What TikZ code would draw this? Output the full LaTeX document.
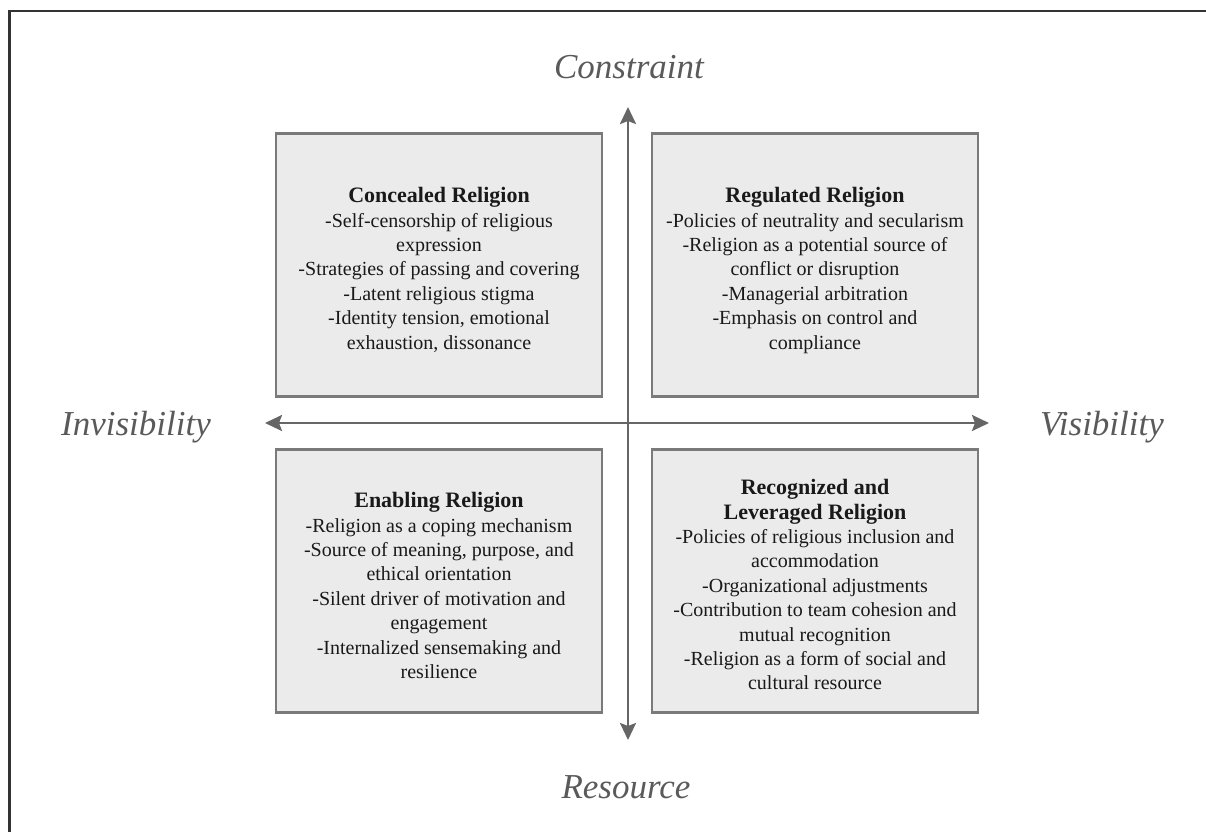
\documentclass[tikz,border=0pt]{standalone}
\usepackage{fontspec}
\setmainfont{Liberation Serif}
\usetikzlibrary{arrows.meta}
\definecolor{boxfill}{HTML}{EBEBEB}
\definecolor{boxline}{HTML}{7A7A7A}
\definecolor{axisgray}{HTML}{666666}
\definecolor{labelgray}{HTML}{5A5A5A}
\newcommand{\quadtitle}[1]{{\fontsize{11}{12.2}\selectfont\bfseries #1}}
\begin{document}
\begin{tikzpicture}[x=0.5pt,y=-0.5pt,
        quad/.style={draw=boxline,line width=1.1pt,fill=boxfill,minimum width=163pt,minimum height=131.5pt,inner sep=0pt},
        quadtext/.style={anchor=north,align=center,inner sep=0pt,text=black!90,font=\fontsize{10}{12.2}\selectfont},
        axislabel/.style={text=labelgray,font=\fontsize{17.5}{20}\selectfont\itshape},
        >={Stealth[length=8.5pt,width=8pt,inset=1.5pt]}]
            \useasboundingbox (0,0) rectangle (1206,831);
            % Frame
            \draw [color=black!80,line width=1.3pt] (9.5,900)--(9.5,11)--(1300,11);

            % Quadrants
            \node [quad] (concealed) at (439,265) {};
            \node [quad] (regulated) at (815,265) {};
            \node [quad] (enabling) at (439,581) {};
            \node [quad] (leveraged) at (815,581) {};

            \node [quadtext] (concealedtxt) at (439,187) {\quadtitle{Concealed Religion}\\
                -Self-censorship of religious\\ expression\\
                -Strategies of passing and covering\\
                -Latent religious stigma\\
                -Identity tension, emotional\\ exhaustion, dissonance};
            \node [quadtext] (regulatedtxt) at (815,187) {\quadtitle{Regulated Religion}\\
                -Policies of neutrality and secularism\\
                -Religion as a potential source of\\ conflict or disruption\\
                -Managerial arbitration\\
                -Emphasis on control and\\ compliance};
            \node [quadtext] (enablingtxt) at (439,492) {\quadtitle{Enabling Religion}\\
                -Religion as a coping mechanism\\
                -Source of meaning, purpose, and\\ ethical orientation\\
                -Silent driver of motivation and\\ engagement\\
                -Internalized sensemaking and\\ resilience};
            \node [quadtext] (leveragedtxt) at (815,479) {\quadtitle{Recognized and}\\
                \quadtitle{Leveraged Religion}\\
                -Policies of religious inclusion and\\ accommodation\\
                -Organizational adjustments\\
                -Contribution to team cohesion and\\ mutual recognition\\
                -Religion as a form of social and\\ cultural resource};

            % Axis
            \coordinate (top) at (628,107);
            \coordinate (bottom) at (628,740);
            \coordinate (left) at (265,423);
            \coordinate (right) at (989,423);
            \draw [<->,color=axisgray,line width=1.2pt] (left)--(right);
            \draw [<->,color=axisgray,line width=1.2pt] (bottom)--(top);

            \node [axislabel] (constraint) at (629,67) {Constraint};
            \node [axislabel] (resource) at (626,787) {Resource};
            \node [axislabel] (invisibility) at (136,427) {Invisibility};
            \node [axislabel] (visibility) at (1102,427) {Visibility};
        \end{tikzpicture}
\end{document}
